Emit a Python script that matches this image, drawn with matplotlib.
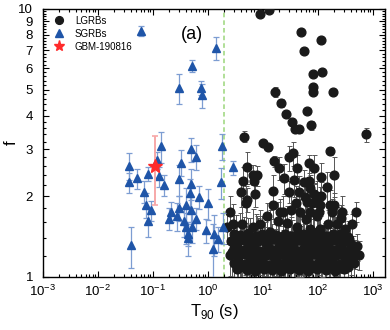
import matplotlib
matplotlib.use("Agg")
import matplotlib.pyplot as plt
from matplotlib.lines import Line2D
from matplotlib.ticker import FixedLocator, FixedFormatter, LogLocator, NullFormatter

plt.rcParams["font.family"] = ["Liberation Sans", "DejaVu Sans"]
plt.rcParams["mathtext.fontset"] = "custom"
plt.rcParams["mathtext.rm"] = "Liberation Sans"

# long GRBs: T90 (s), f, error on f
lgrb_t = [
    8.82, 12.9, 49.1, 113, 55.6, 81.1, 118, 81.1, 81.1, 187, 16.5, 21.2, 63.1, 26.2,
    33.7, 38.2, 45.2, 74.6, 4.52, 746, 10.0, 12.3, 165, 15.8, 19.5, 29.7, 35.1, 68.6,
    84.6, 41.5, 24.1, 5.12, 6.58, 7.78, 4.33, 6.86, 36.6, 195, 113, 68.6, 55.6, 3.98,
    29.7, 45.2, 15.2, 71.6, 84.6, 113, 146, 5.12, 58.0, 95.9, 7.16, 4.91, 15.2, 39.8,
    63.1, 77.8, 109, 165, 195, 2.51, 20.4, 23.1, 47.1, 71.6, 104, 180, 273, 491,
    11.8, 32.3, 60.5, 95.9, 4.15, 2.85, 2.22, 6.58, 8.82, 18.7, 27.3, 41.5, 71.6, 109,
    152, 221, 310, 415, 262,
    # dense band
    2.97, 3.82, 5.34, 7.46, 9.59, 13.4, 17.2, 25.1, 32.3, 43.3, 53.4, 74.6, 100, 140,
    187, 251, 351,
    3.23, 4.33, 5.80, 7.78, 10.4, 14.0, 18.7, 25.1, 33.7, 45.2, 60.5, 81.1, 109, 146,
    195, 262, 366,
    2.62, 3.37, 4.52, 6.05, 8.11, 10.9, 14.6, 19.5, 26.2, 35.1, 47.1, 63.1, 84.6, 113,
    152, 204, 285, 382, 512,
    2.97, 3.98, 5.34, 7.16, 9.59, 12.9, 17.2, 23.1, 31.0, 41.5, 55.6, 74.6, 100, 134,
    180, 241, 323, 433,
    2.73, 3.66, 4.91, 6.58, 8.82, 11.8, 15.8, 21.2, 28.5, 38.2, 51.2, 68.6, 92.0, 123,
    165, 221, 310, 471,
    2.51, 3.51, 4.71, 6.31, 8.46, 11.3, 15.2, 20.4, 27.3, 36.6, 49.1, 65.8, 88.2, 118,
    158, 212, 297, 398, 556,
    2.97, 4.15, 5.56, 7.46, 10.0, 13.4, 18.0, 24.1, 32.3, 43.3, 58.0, 77.8, 104, 140,
    187, 251, 351, 452,
    3.82, 5.80, 8.46, 12.3, 17.2, 25.1, 36.6, 53.4, 77.8, 113, 165, 241, 351,
    3.37, 5.12, 7.16, 10.4, 14.6, 21.2, 31.0, 45.2, 65.8, 95.9, 140, 204, 297,
]
lgrb_f = [
    9.58, 9.91, 8.20, 7.65, 6.96, 5.71, 5.81, 5.10, 4.89, 4.89, 4.89, 4.45, 4.15, 4.04,
    3.77, 3.55, 3.55, 3.68, 3.34, 3.40, 3.15, 3.04, 2.94, 2.70, 2.54, 2.79, 2.89, 2.65,
    2.54, 2.54, 2.33, 2.58, 2.41, 2.39, 2.27, 2.27, 2.29, 2.39, 2.35, 2.27, 2.25, 2.08,
    2.08, 2.08, 2.10, 2.14, 2.03, 2.01, 2.17, 1.94, 1.99, 1.98, 2.03, 1.89, 1.85, 1.89,
    1.91, 1.88, 1.86, 1.86, 1.86, 1.75, 1.75, 1.75, 1.75, 1.75, 1.75, 1.75, 1.75, 1.75,
    1.69, 1.78, 1.65, 1.68, 1.58, 1.57, 1.53, 1.54, 1.57, 1.61, 1.59, 1.54, 1.51, 1.51,
    1.57, 1.57, 1.51, 1.57, 1.66,
    1.45, 1.43, 1.46, 1.42, 1.44, 1.47, 1.43, 1.45, 1.42, 1.46, 1.44, 1.43, 1.47, 1.42,
    1.45, 1.44, 1.41,
    1.40, 1.39, 1.41, 1.38, 1.40, 1.39, 1.41, 1.40, 1.38, 1.41, 1.39, 1.40, 1.38, 1.41,
    1.39, 1.40, 1.38,
    1.36, 1.34, 1.37, 1.33, 1.36, 1.35, 1.38, 1.34, 1.36, 1.33, 1.37, 1.35, 1.34, 1.36,
    1.33, 1.37, 1.35, 1.34, 1.30,
    1.28, 1.26, 1.29, 1.27, 1.25, 1.28, 1.26, 1.29, 1.27, 1.25, 1.28, 1.26, 1.27, 1.29,
    1.26, 1.28, 1.25, 1.27,
    1.24, 1.23, 1.25, 1.24, 1.22, 1.24, 1.23, 1.25, 1.23, 1.24, 1.22, 1.25, 1.23, 1.24,
    1.22, 1.24, 1.23, 1.22,
    1.21, 1.19, 1.22, 1.20, 1.18, 1.21, 1.20, 1.22, 1.19, 1.21, 1.20, 1.18, 1.22, 1.20,
    1.19, 1.21, 1.20, 1.22, 1.21,
    1.13, 1.12, 1.14, 1.12, 1.13, 1.11, 1.14, 1.13, 1.12, 1.14, 1.13, 1.11, 1.14, 1.12,
    1.13, 1.12, 1.14, 1.13,
    1.09, 1.10, 1.08, 1.09, 1.10, 1.08, 1.09, 1.10, 1.08, 1.09, 1.10, 1.08, 1.09,
    1.07, 1.06, 1.05, 1.07, 1.06, 1.05, 1.07, 1.06, 1.05, 1.07, 1.06, 1.05, 1.07,
]
lgrb_err = [
    0.1, 0.1, 0.1, 0.1, 0.1, 0.1, 0.1, 0.1, 0.1, 0.1, 0.2, 0.15, 0.1, 0.12,
    0.1, 0.12, 0.1, 0.15, 0.15, 0.2, 0.1, 0.1, 0.1, 0.12, 0.25, 0.3, 0.3, 0.2,
    0.3, 0.3, 0.3, 0.35, 0.2, 0.2, 0.3, 0.2, 0.3, 0.4, 0.3, 0.35, 0.25, 0.25,
    0.2, 0.3, 0.3, 0.25, 0.2, 0.25, 0.3, 0.2, 0.25, 0.3, 0.2, 0.3, 0.2, 0.3,
    0.3, 0.2, 0.3, 0.25, 0.2, 0.25, 0.2, 0.25, 0.2, 0.3, 0.25, 0.2, 0.25, 0.15,
    0.2, 0.3, 0.25, 0.25, 0.25, 0.3, 0.2, 0.25, 0.2, 0.3, 0.25, 0.3, 0.25, 0.3,
    0.2, 0.25, 0.2, 0.15, 0.2,
    0.25, 0.3, 0.2, 0.3, 0.25, 0.3, 0.2, 0.3, 0.25, 0.3, 0.2, 0.3, 0.25, 0.2,
    0.3, 0.25, 0.2,
    0.3, 0.2, 0.25, 0.3, 0.2, 0.25, 0.3, 0.2, 0.25, 0.3, 0.2, 0.25, 0.3, 0.2,
    0.25, 0.2, 0.15,
    0.2, 0.25, 0.3, 0.2, 0.3, 0.25, 0.2, 0.3, 0.25, 0.2, 0.3, 0.25, 0.3, 0.2,
    0.25, 0.3, 0.2, 0.2, 0.15,
    0.2, 0.3, 0.25, 0.2, 0.3, 0.2, 0.25, 0.3, 0.2, 0.25, 0.3, 0.2, 0.25, 0.3,
    0.2, 0.25, 0.2, 0.15,
    0.25, 0.2, 0.3, 0.25, 0.2, 0.3, 0.25, 0.2, 0.3, 0.25, 0.2, 0.3, 0.25, 0.2,
    0.3, 0.25, 0.2, 0.15,
    0.2, 0.25, 0.2, 0.3, 0.25, 0.2, 0.3, 0.25, 0.2, 0.3, 0.2, 0.25, 0.3, 0.2,
    0.25, 0.2, 0.25, 0.2, 0.15,
    0.2, 0.15, 0.25, 0.2, 0.15, 0.25, 0.2, 0.15, 0.25, 0.2, 0.15, 0.25, 0.2, 0.15,
    0.2, 0.25, 0.15, 0.2,
    0.2, 0.15, 0.2, 0.15, 0.2, 0.15, 0.2, 0.15, 0.2, 0.15, 0.2, 0.15, 0.2,
    0.15, 0.2, 0.15, 0.2, 0.15, 0.2, 0.15, 0.2, 0.15, 0.2, 0.15, 0.2, 0.15,
]

# short GRBs
sgrb_t = [
    0.0605, 1.40, 0.512, 0.297, 0.746, 0.778, 0.140, 0.491, 0.605, 1.80, 0.323, 0.0366,
    0.118, 0.051, 0.081, 0.129, 0.158, 0.0366, 0.297, 0.491, 1.72, 0.0685, 0.471, 0.685,
    0.0746, 1.0, 0.092, 0.297, 0.398, 0.212, 0.491, 0.195, 0.273, 0.605, 0.081, 0.366,
    0.398, 0.512, 0.92, 0.432, 0.432, 1.29, 1.52, 1.23, 0.040, 1.85, 2.85,
]
sgrb_f = [
    8.27, 7.14, 6.12, 5.06, 5.06, 4.76, 3.07, 2.99, 2.81, 3.07, 2.67, 2.60,
    2.72, 2.33, 2.43, 2.37, 2.21, 2.25, 2.31, 2.23, 2.25, 2.08, 2.06, 1.99,
    1.86, 1.88, 1.77, 1.81, 1.85, 1.75, 1.78, 1.65, 1.68, 1.65, 1.61, 1.61,
    1.53, 1.54, 1.49, 1.45, 1.40, 1.45, 1.39, 1.27, 1.31, 1.53, 2.56,
]
sgrb_err = [
    0.35, 0.7, 0.3, 0.65, 0.3, 0.5, 0.4, 0.3, 0.3, 0.35, 0.3, 0.3,
    0.2, 0.2, 0.15, 0.2, 0.2, 0.2, 0.3, 0.3, 0.3, 0.2, 0.25, 0.2,
    0.2, 0.25, 0.15, 0.2, 0.3, 0.15, 0.2, 0.15, 0.2, 0.15, 0.2, 0.2,
    0.2, 0.2, 0.15, 0.15, 0.2, 0.25, 0.15, 0.3, 0.23, 0.2, 0.15,
]

# GBM-190816
star_t = [0.109]
star_f = [2.60]
star_err = [0.75]

x_ticks = [1e-3, 1e-2, 1e-1, 1e0, 1e1, 1e2, 1e3]
y_ticks = [1, 2, 3, 4, 5, 6, 7, 8, 9, 10]

fig = plt.figure(figsize=(3.9, 3.3), dpi=100)
ax = fig.add_axes([0.110, 0.161, 0.877, 0.812])

ax.axvline(2.0, color="#9bd67a", linestyle=(0, (3, 2)), linewidth=1.1, zorder=1)

ax.errorbar(lgrb_t, lgrb_f, yerr=lgrb_err, fmt="o", color="#1a1a1a", markersize=6.3,
            ecolor="#555555", elinewidth=0.7, capsize=1.8, capthick=0.7, zorder=3)
ax.errorbar(sgrb_t, sgrb_f, yerr=sgrb_err, fmt="^", color="#1f55a8", markersize=5.8,
            ecolor="#7d9dd2", elinewidth=0.9, capsize=2.0, capthick=0.9, zorder=4)
ax.errorbar(star_t, star_f, yerr=star_err, fmt="*", color="#ff2a2a", markersize=10,
            ecolor="#f7a8a8", elinewidth=1.4, capsize=2.5, capthick=1.2, zorder=5)

ax.set_xscale("log")
ax.set_yscale("log")
ax.set_xlim(1e-3, 10 ** 3.22)
ax.set_ylim(1, 10)

ax.yaxis.set_major_locator(FixedLocator(y_ticks))
ax.yaxis.set_major_formatter(FixedFormatter([str(v) for v in y_ticks]))
ax.yaxis.set_minor_locator(FixedLocator([v / 5 for v in range(5, 50) if v % 5]))
ax.yaxis.set_minor_formatter(NullFormatter())
ax.xaxis.set_major_locator(FixedLocator(x_ticks))
ax.xaxis.set_minor_locator(LogLocator(base=10, subs=range(2, 10), numticks=20))
ax.xaxis.set_minor_formatter(NullFormatter())

ax.tick_params(which="both", direction="in", top=True, right=True, width=0.8)
ax.tick_params(which="major", length=4, pad=3)
ax.tick_params(which="minor", length=2)
ax.tick_params(axis="x", which="major", labelsize=9.5, pad=5)
ax.tick_params(axis="y", which="major", labelsize=9.5, pad=7)
for sp in ax.spines.values():
    sp.set_linewidth(1.0)

ax.set_xlabel("T$_{90}$ (s)", fontsize=12, labelpad=2)
ax.set_ylabel("f", fontsize=12, labelpad=0)
ax.text(0.435, 0.905, "(a)", transform=ax.transAxes, fontsize=13, ha="center", va="center")

handles = [
    Line2D([], [], marker="o", color="#1a1a1a", linestyle="none", markersize=5.6),
    Line2D([], [], marker="^", color="#1f55a8", linestyle="none", markersize=5.6),
    Line2D([], [], marker="*", color="#ff2a2a", linestyle="none", markersize=8),
]
ax.legend(handles, ["LGRBs", "SGRBs", "GBM-190816"], loc="upper left", frameon=False,
          fontsize=7, handletextpad=0.6, labelspacing=0.3, borderaxespad=0.3,
          bbox_to_anchor=(0.0, 1.0))

fig.savefig("out.png", dpi=100)
